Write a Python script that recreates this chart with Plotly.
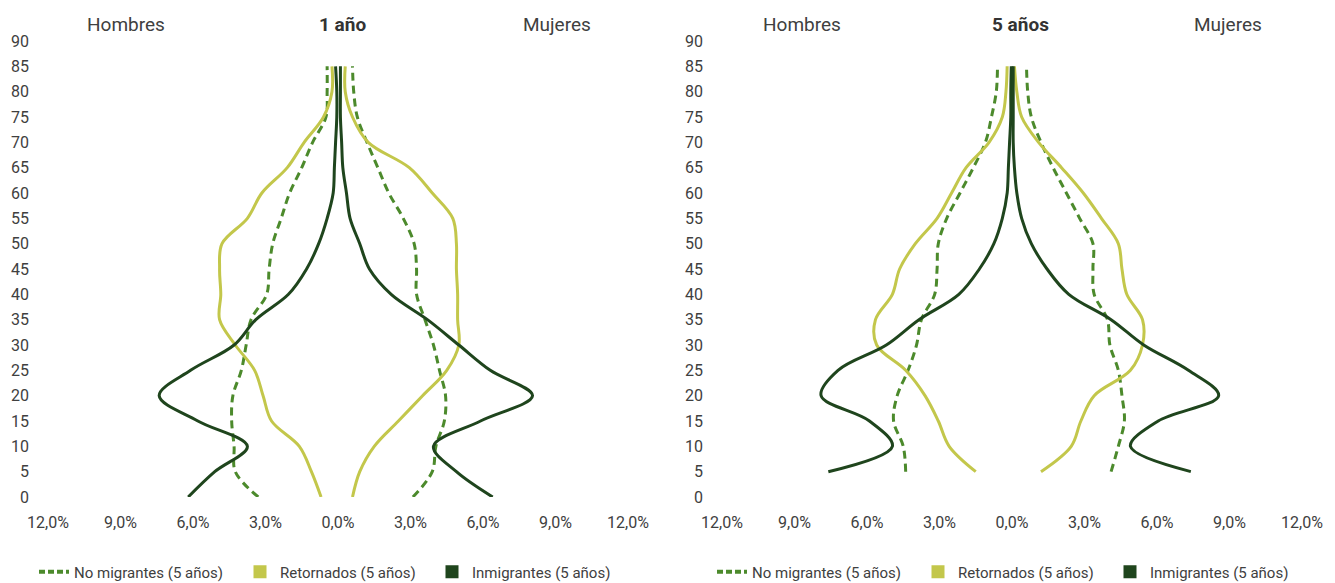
import plotly.graph_objects as go

# ---------------- data ----------------
edades_1 = list(range(0, 90, 5))     # 0..85
edades_5 = list(range(5, 90, 5))     # 5..85

# Panel "1 año" (percent of population, men plotted to the left)
nomig_h_1 = [3.3, 4.25, 4.3, 4.4, 4.35, 4.0, 3.8, 3.6, 2.95, 2.85, 2.7, 2.35, 2.0, 1.5, 1.05, 0.5, 0.45, 0.45]
nomig_m_1 = [3.1, 3.9, 4.05, 4.4, 4.45, 4.2, 3.95, 3.6, 3.25, 3.25, 3.15, 2.7, 2.1, 1.65, 1.2, 0.8, 0.65, 0.6]
ret_h_1 = [0.7, 1.1, 1.6, 2.75, 3.1, 3.45, 4.25, 4.9, 4.85, 4.9, 4.8, 3.75, 3.15, 2.1, 1.4, 0.6, 0.25, 0.25]
ret_m_1 = [0.6, 0.9, 1.5, 2.5, 3.5, 4.5, 5.0, 4.95, 4.95, 4.9, 4.9, 4.75, 3.9, 2.95, 1.25, 0.6, 0.3, 0.3]
inm_h_1 = [6.2, 5.1, 3.75, 5.8, 7.4, 6.1, 4.3, 3.4, 2.05, 1.3, 0.8, 0.45, 0.2, 0.15, 0.1, 0.05, 0.05, 0.1]
inm_m_1 = [6.4, 4.9, 3.95, 5.9, 8.05, 6.3, 5.0, 3.7, 2.2, 1.3, 0.9, 0.5, 0.35, 0.2, 0.15, 0.1, 0.1, 0.1]

# Panel "5 años"
nomig_h_5 = [4.4, 4.5, 4.9, 4.75, 4.3, 3.95, 3.75, 3.2, 3.1, 3.05, 2.7, 2.15, 1.6, 1.1, 0.85, 0.65, 0.6]
nomig_m_5 = [4.1, 4.4, 4.65, 4.55, 4.4, 4.05, 3.95, 3.4, 3.35, 3.35, 2.8, 2.25, 1.7, 1.2, 0.8, 0.65, 0.6]
ret_h_5 = [1.5, 2.6, 3.05, 3.6, 4.4, 5.6, 5.65, 4.95, 4.65, 4.0, 3.1, 2.5, 1.9, 0.95, 0.4, 0.25, 0.2]
ret_m_5 = [1.2, 2.45, 2.85, 3.4, 4.9, 5.4, 5.4, 4.75, 4.55, 4.4, 3.7, 2.95, 2.05, 1.1, 0.4, 0.2, 0.1]
inm_h_5 = [7.6, 4.95, 5.9, 7.9, 7.2, 5.2, 3.85, 2.2, 1.35, 0.75, 0.4, 0.2, 0.15, 0.1, 0.05, 0.05, 0.03]
inm_m_5 = [7.4, 4.9, 6.05, 8.55, 7.3, 5.45, 4.1, 2.35, 1.45, 0.8, 0.4, 0.2, 0.1, 0.05, 0.05, 0.05, 0.05]

x_ticks = [-12, -9, -6, -3, 0, 3, 6, 9, 12]
x_ticktext = ["12,0%", "9,0%", "6,0%", "3,0%", "0,0%", "3,0%", "6,0%", "9,0%", "12,0%"]
y_ticks = list(range(0, 95, 5))

series_names = ["No migrantes (5 años)", "Retornados (5 años)", "Inmigrantes (5 años)"]
panel_titles = ["1 año", "5 años"]

# ---------------- style ----------------
C_NOMIG = "#4C8A2C"
C_RET = "#C3C74B"
C_INM = "#1F451D"
FONT = "Roboto, 'Noto Sans', sans-serif"
TXT = "#404040"

# the page body has an 8px default margin: lay out in page pixels, shifted by OFF
OFF = 8
W, H = 1335 - OFF, 583 - OFF


def px_x(v):
    return (v - OFF) / W


def px_y(v):
    return 1 - (v - OFF) / H


dom_x = [[px_x(48), px_x(628)], [px_x(722), px_x(1302)]]
dom_y = [px_y(497), px_y(41)]

fig = go.Figure()

panels = [
    (edades_1, [(nomig_h_1, nomig_m_1), (ret_h_1, ret_m_1), (inm_h_1, inm_m_1)]),
    (edades_5, [(nomig_h_5, nomig_m_5), (ret_h_5, ret_m_5), (inm_h_5, inm_m_5)]),
]
colors = [C_NOMIG, C_RET, C_INM]
dashes = ["8px,5px", "solid", "solid"]

# legend x positions (page px) for each panel's three entries
legend_x = [[34, 240, 432], [712, 918, 1110]]

leg_layout = {}
for p, (edades, sers) in enumerate(panels):
    xa = "x" if p == 0 else "x2"
    ya = "y" if p == 0 else "y2"
    for (hom, muj), col, dsh in zip(sers, colors, dashes):
        for vals, sign in ((hom, -1), (muj, 1)):
            fig.add_trace(go.Scatter(
                x=[sign * v for v in vals], y=edades, mode="lines",
                line=dict(color=col, width=3, dash=dsh, shape="spline", smoothing=1.0),
                showlegend=False, xaxis=xa, yaxis=ya, hoverinfo="skip"))
    # legend entries, each in its own legend box
    for i, (nm, col) in enumerate(zip(series_names, colors)):
        lg_id = "legend" if (p == 0 and i == 0) else f"legend{p * 3 + i + 1}"
        if i == 0:
            fig.add_trace(go.Scatter(
                x=[None], y=[None], mode="lines", name=nm,
                line=dict(color=col, width=4, dash="6px,3px"),
                legend=lg_id, xaxis=xa, yaxis=ya))
        else:
            fig.add_trace(go.Scatter(
                x=[None], y=[None], mode="markers", name=nm,
                marker=dict(symbol="square", color=col, size=13),
                legend=lg_id, xaxis=xa, yaxis=ya))
        leg_layout[lg_id] = dict(
            orientation="h", x=px_x(legend_x[p][i]), y=px_y(572),
            xanchor="left", yanchor="middle",
            font=dict(family=FONT, size=15, color=TXT), itemwidth=30,
            bgcolor="rgba(0,0,0,0)", borderwidth=0)

axis_common_x = dict(range=[-12, 12], tickmode="array", tickvals=x_ticks, ticktext=x_ticktext,
                     showgrid=False, zeroline=False, showline=False, ticks="",
                     tickfont=dict(family=FONT, size=16, color=TXT), ticklabelstandoff=14,
                     fixedrange=True, automargin=False)
axis_common_y = dict(range=[0, 90], tickmode="array", tickvals=y_ticks,
                     showgrid=False, zeroline=False, showline=False, ticks="",
                     tickfont=dict(family=FONT, size=16, color=TXT), ticklabelstandoff=18,
                     fixedrange=True, automargin=False)

fig.update_layout(
    width=W, height=H,
    margin=dict(l=0, r=0, t=0, b=0, autoexpand=False),
    paper_bgcolor="white", plot_bgcolor="white",
    font=dict(family=FONT, color=TXT),
    xaxis=dict(domain=dom_x[0], anchor="y", **axis_common_x),
    yaxis=dict(domain=dom_y, anchor="x", **axis_common_y),
    xaxis2=dict(domain=dom_x[1], anchor="y2", **axis_common_x),
    yaxis2=dict(domain=dom_y, anchor="x2", **axis_common_y),
    showlegend=True,
    **leg_layout,
)

# Panel headers
headers = [
    (126, "Hombres", False), (343, panel_titles[0], True), (557, "Mujeres", False),
    (802, "Hombres", False), (1020, panel_titles[1], True), (1228, "Mujeres", False),
]
for xpx, txt, bold in headers:
    fig.add_annotation(
        x=px_x(xpx), y=px_y(24), xref="paper", yref="paper", showarrow=False,
        text=f"<b>{txt}</b>" if bold else txt,
        font=dict(family=FONT, size=19, color="#333333" if bold else TXT),
        xanchor="center", yanchor="middle")

fig.write_html("out.html")
